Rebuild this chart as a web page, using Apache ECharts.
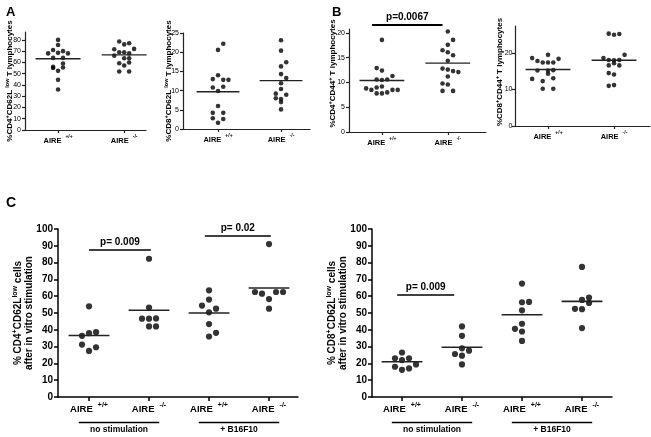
<!DOCTYPE html>
<html><head><meta charset="utf-8">
<script src="https://cdn.jsdelivr.net/npm/echarts@6/dist/echarts.min.js"></script>
<style>html,body{margin:0;padding:0;background:#fff}#c{width:651px;height:437px}</style>
</head><body><div id="c"></div>
<script>
// ---------- data ----------
// each point: [column offset within the jittered cloud, value]
const genotypes = ['+/+', '-/-'];
const stimGroups = ['no stimulation', '+ B16F10'];

const a1Wt = [[0,80],[0,75.5],[-1,71],[1,70],[-2,68],[0,68.5],[2,68],[-1,64],[1,64],[1,59],[-1,56],[1,55.5],[-1,55],[0,52.5],[0,44.5],[0,36]];
const a1Ko = [[-1,78.5],[0,76],[1,77],[-2,71.7],[2,72],[-1,69],[0,69],[1,68],[-2,66],[0,63.7],[1,63.7],[-1,59.3],[1,59.9],[0,57.2],[-1,52],[1,52]];
const a1Means = [63.2, 66.7];

const a2Wt = [[1,22.2],[0,20.6],[0,14],[-1,13],[1,12.8],[2,12.8],[-1,10.8],[1,11],[0,9.9],[0,6],[-1,4.2],[1,4.2],[-1,2.8],[1,2.6],[0,1.6]];
const a2Ko = [[0,23.1],[0,20.4],[1,17.4],[0,16.3],[0,14.3],[1,13.3],[0,11.9],[0,10.4],[-1,9.2],[1,8.9],[-1,8],[0,7.8],[0,7],[0,5.1]];
const a2Means = [9.7, 12.6];

const b1Wt = [[0,18.6],[-1,12.9],[0,12.4],[2,11.3],[-1,10.6],[0,10.5],[1,10.6],[-3,8.8],[-2,8.5],[-1,9.0],[0,9.2],[-1,7.8],[0,7.8],[1,8.0],[2,8.5],[3,8.5]];
const b1Ko = [[0,20.3],[1,18.6],[0,17.6],[-1,16.5],[0,16.1],[1,15.5],[0,14.4],[-1,12.8],[0,12.6],[1,12.3],[2,12.1],[0,11.2],[-1,9.8],[0,9.6],[-1,8.3],[1,8.3]];
const b1Means = [10.4, 13.9];

const b2Wt = [[0,19.5],[-3,18.6],[2,18.4],[-2,17.8],[-1,17.4],[0,17.4],[1,17.4],[-2,15.2],[0,15.2],[1,15.3],[0,14.3],[-3,12.9],[1,13.1],[-1,12.3],[-1,10.2],[1,10.2]];
const b2Ko = [[-1,25.3],[0,25.0],[1,25.2],[-2,18.6],[-1,18.1],[0,18.0],[1,18.1],[2,19.5],[-1,16.6],[1,16.6],[0,17.2],[-1,14.5],[0,14.1],[-1,11.0],[0,11.2]];
const b2Means = [15.5, 18.0];

const c1NoWt = [[0,54],[-1,36.4],[0,38],[1,38.6],[-1,31.2],[1,29.6],[0,27.4]];
const c1NoKo = [[0,82.3],[0,53.2],[-1,46.6],[0,46.6],[1,46.8],[0,42],[1,42]];
const c1BWt = [[0,63.5],[0,58],[-1,54.4],[1,52.6],[0,50.4],[0,43.4],[1,38.2],[0,36]];
const c1BKo = [[0,91],[-2,62.5],[-1,61.5],[1,62.5],[2,62.5],[0,58.3],[0,52.6]];
const c1Means = [36.6, 51.6, 50, 64.9];

const c2NoWt = [[0,26.5],[-1,23],[0,22],[1,23],[2,19.4],[-1,18],[0,16.2],[1,17]];
const c2NoKo = [[0,42],[0,36.4],[0,29],[1,27.6],[-1,25.6],[0,24.6],[0,19.4]];
const c2BWt = [[0,67.5],[0,56.4],[1,56.6],[0,51.6],[0,43.6],[-1,40.6],[0,39],[0,33.4]];
const c2BKo = [[0,77.4],[0,57.8],[1,59.2],[1,56],[-1,52.5],[0,52.3],[0,41]];
const c2Means = [21, 29.6, 49, 56.9];

const a1Ticks = [0,10,20,30,40,50,60,70,80];
const a2Ticks = [0,5,10,15,20,25];
const b1Ticks = [0,5,10,15,20];
const b2Ticks = [0,10,20];
const cTicks = [0,10,20,30,40,50,60,70,80,90,100];

// significance bars: [from group, to group, value, label]
const b1PBars = [[0.85, 1.92, 21.6, 'p=0.0067']];
const c1PBars = [[1.0, 2.03, 87.5, 'p= 0.009'], [2.93, 4.03, 95.8, 'p= 0.02']];
const c2PBars = [[0.92, 1.87, 60.7, 'p= 0.009']];

const a1Title = '{t|%CD4}{s|+}{t|CD62L }{s|low}{t| T lymphocytes}';
const a2Title = '{t|%CD8}{s|+}{t|CD62L }{s|low}{t| T lymphocytes}';
const b1Title = '{t|%CD4}{s|+}{t|CD44}{s|+}{t| T lymphocytes}';
const b2Title = '{t|%CD8}{s|+}{t|CD44}{s|+}{t| T lymphocytes}';
const c1Title = '{t|% CD4}{s|+}{t|CD62L}{s|low}{t| cells}\n{t|after in vitro stimulation}';
const c2Title = '{t|% CD8}{s|+}{t|CD62L}{s|low}{t| cells}\n{t|after in vitro stimulation}';

// ---------- layout / style ----------
const FONT = '"Liberation Sans", Arial, sans-serif';
const panels = [
  {grid:{left:25,top:32,width:121,height:98}, x:[0.5,2.33], yMax:87, ticks:a1Ticks, groups:[a1Wt,a1Ko], means:a1Means, title:a1Title, gap:11, pad:0, lm:4, step:0.075, big:false, pbars:[]},
  {grid:{left:183,top:33,width:127,height:96}, x:[0.444,2.46], yMax:25, ticks:a2Ticks, groups:[a2Wt,a2Ko], means:a2Means, title:a2Title, gap:10, pad:0, lm:4, step:0.083, big:false, pbars:[]},
  {grid:{left:349,top:29,width:137,height:103}, x:[0.5,2.58], yMax:20.8, ticks:b1Ticks, groups:[b1Wt,b1Ko], means:b1Means, title:b1Title, gap:12, pad:14, lm:4, step:0.08, big:false, pbars:b1PBars},
  {grid:{left:515,top:26,width:135,height:100}, x:[0.5,2.545], yMax:27.4, ticks:b2Ticks, groups:[b2Wt,b2Ko], means:b2Means, title:b2Title, gap:11, pad:8, lm:2.5, step:0.08, big:false, pbars:[]},
  {grid:{left:58,top:229,width:240,height:168}, x:[0.483,4.483], yMax:100, ticks:cTicks, groups:[c1NoWt,c1NoKo,c1BWt,c1BKo], means:c1Means, title:c1Title, gap:24, pad:0, lm:5, step:0.117, big:true, pbars:c1PBars},
  {grid:{left:372,top:229,width:240,height:168}, x:[0.5,4.5], yMax:100, ticks:cTicks, groups:[c2NoWt,c2NoKo,c2BWt,c2BKo], means:c2Means, title:c2Title, gap:24, pad:0, lm:5, step:0.117, big:true, pbars:c2PBars}
];

const grids = [], xAxes = [], yAxes = [], series = [];
panels.forEach((p, i) => {
  const big = p.big;
  const cats = p.groups.map((g, k) => k + 1);
  const axisColor = big ? '#000' : '#222';
  const axisW = big ? 1.5 : 1.2;
  grids.push(Object.assign({containLabel:false, outerBoundsMode:'none'}, p.grid));
  xAxes.push({
    type:'value', gridIndex:i, min:p.x[0], max:p.x[1],
    axisLine:{show:true, onZero:false, lineStyle:{color:axisColor, width:axisW}},
    splitLine:{show:false},
    axisTick:{show:true, customValues:cats, length:big?4:3, lineStyle:{color:axisColor, width:axisW}},
    axisLabel:{
      show:true, customValues:cats, margin:4.5,
      formatter:(v) => '{m|AIRE}{s|' + genotypes[(Math.round(v) - 1) % 2] + '}',
      rich:{
        m:{fontFamily:FONT, fontWeight:'bold', fontSize:big?9.5:7.5, lineHeight:big?13:10, verticalAlign:'bottom', color:'#000'},
        s:{fontFamily:FONT, fontWeight:'bold', fontSize:big?7:5, lineHeight:big?7:5, verticalAlign:'top', color:'#000', padding:[0,0,0,big?5:4]}
      }
    }
  });
  yAxes.push({
    type:'value', gridIndex:i, min:0, max:p.yMax,
    axisLine:{show:true, onZero:false, lineStyle:{color:axisColor, width:axisW}},
    splitLine:{show:false},
    axisTick:{show:true, customValues:p.ticks, length:big?4:3, lineStyle:{color:axisColor, width:axisW}},
    axisLabel:{show:true, customValues:p.ticks, margin:p.lm, fontFamily:FONT, fontWeight:big?'bold':'normal', fontSize:big?10:7, color:'#000'},
    name:p.title, nameLocation:'middle', nameRotate:90, nameGap:p.gap, nameMoveOverlap:false,
    nameTextStyle:{
      padding:[0,0,0,p.pad],
      rich:{
        t:{fontFamily:FONT, fontWeight:'bold', fontSize:big?10:8, lineHeight:big?11:10, verticalAlign:'bottom', color:'#000'},
        s:{fontFamily:FONT, fontWeight:'bold', fontSize:big?7:5.5, lineHeight:big?7:6, verticalAlign:'top', color:'#000'}
      }
    }
  });
  p.groups.forEach((g, k) => {
    const c = k + 1;
    series.push({
      type:'scatter', xAxisIndex:i, yAxisIndex:i, symbol:'circle', symbolSize:big?6.2:4.6,
      itemStyle:{color:'#000'}, silent:true,
      data:g.map(([col, v]) => [c + col * p.step, v])
    });
    series.push({
      type:'line', xAxisIndex:i, yAxisIndex:i, showSymbol:false, silent:true,
      lineStyle:{color:'#222', width:big?1.6:1.4},
      data:[[c - 0.34, p.means[k]], [c + 0.34, p.means[k]]]
    });
  });
});

const chart = echarts.init(document.getElementById('c'), null, {renderer:'canvas'});
chart.setOption({animation:false, backgroundColor:'#fff', grid:grids, xAxis:xAxes, yAxis:yAxes, series:series});

// annotations placed through the axes' scales
const graphics = [];
const letter = (txt, x, y, size) => graphics.push({type:'text', x, y, style:{text:txt, font:'bold ' + size + 'px ' + FONT, fill:'#000', textAlign:'left', textVerticalAlign:'middle'}});
letter('A', 6, 12, 13);
letter('B', 332, 12, 13);
letter('C', 6, 203, 14);

panels.forEach((p, i) => {
  p.pbars.forEach(([a, b, v, label]) => {
    const p1 = chart.convertToPixel({gridIndex:i}, [a, v]);
    const p2 = chart.convertToPixel({gridIndex:i}, [b, v]);
    graphics.push({type:'line', shape:{x1:p1[0], y1:p1[1], x2:p2[0], y2:p2[1]}, style:{stroke:'#000', lineWidth:p.big?1.5:2}});
    graphics.push({type:'text', x:(p1[0] + p2[0]) / 2, y:p1[1] - 3, style:{text:label, font:'bold 10px ' + FONT, fill:'#000', textAlign:'center', textVerticalAlign:'bottom'}});
  });
  if (p.big) {
    stimGroups.forEach((label, k) => {
      const mid = 1.5 + 2 * k;
      const l = chart.convertToPixel({gridIndex:i}, [mid - 0.67, 0]);
      const r = chart.convertToPixel({gridIndex:i}, [mid + 0.67, 0]);
      const y = l[1] + 25.5;
      graphics.push({type:'line', shape:{x1:l[0], y1:y, x2:r[0], y2:y}, style:{stroke:'#000', lineWidth:1.5}});
      graphics.push({type:'text', x:(l[0] + r[0]) / 2, y:y + 7.5, style:{text:label, font:'bold 8.5px ' + FONT, fill:'#000', textAlign:'center', textVerticalAlign:'middle'}});
    });
  }
});
chart.setOption({graphic:graphics});
</script>
</body></html>
